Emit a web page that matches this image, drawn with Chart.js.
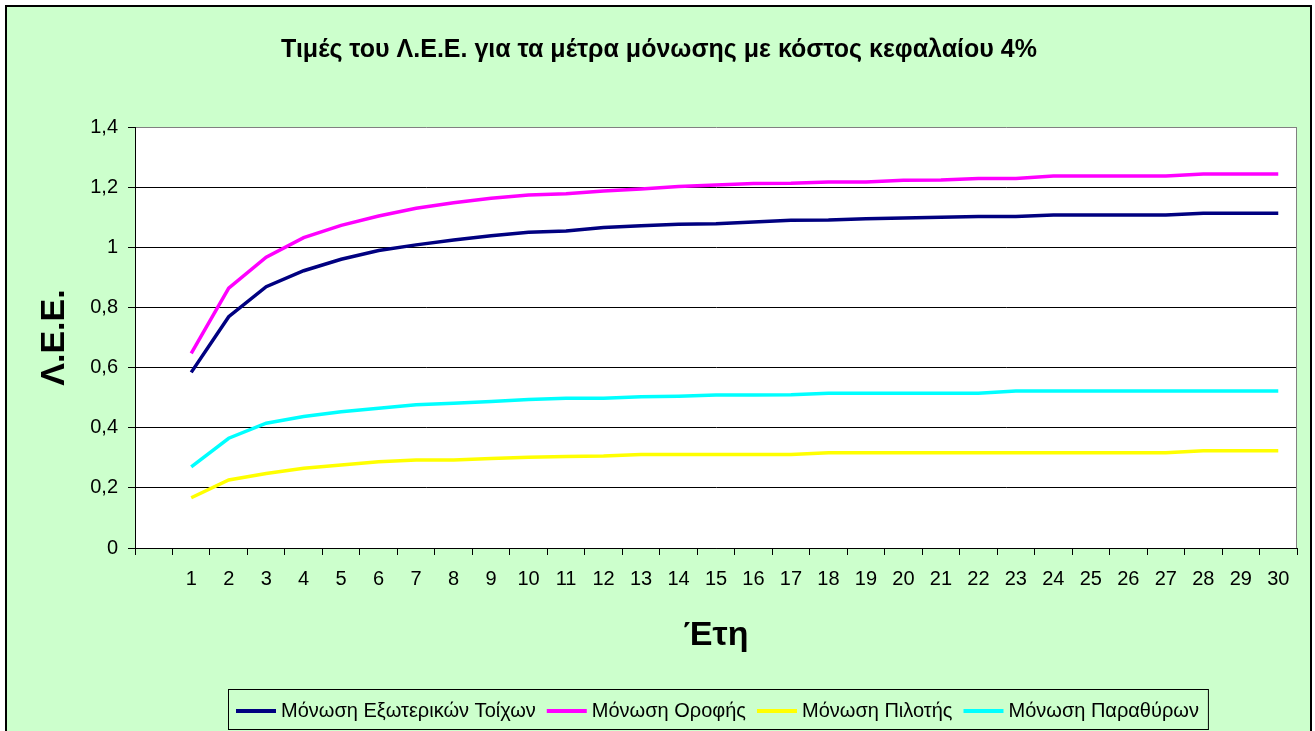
<!DOCTYPE html>
<html>
<head>
<meta charset="utf-8">
<title>Τιμές του Λ.Ε.Ε.</title>
<script src="https://cdn.jsdelivr.net/npm/chart.js@4.4.0/dist/chart.umd.min.js"></script>
<style>
    html, body { margin: 0; padding: 0; background: #ffffff; }
</style>
</head>
<body>
<canvas id="leeChart" width="1315" height="731"></canvas>
<script>
// first category is left empty, the years start at the second slot
const years = ['', '1', '2', '3', '4', '5', '6', '7', '8', '9', '10',
    '11', '12', '13', '14', '15', '16', '17', '18', '19', '20',
    '21', '22', '23', '24', '25', '26', '27', '28', '29', '30'];

const exoterikoiToixoi = [null, 0.584, 0.769, 0.869, 0.922, 0.960, 0.989, 1.008, 1.024, 1.038, 1.050,
    1.054, 1.066, 1.072, 1.077, 1.078, 1.084, 1.090, 1.091, 1.095, 1.097,
    1.100, 1.102, 1.102, 1.107, 1.107, 1.107, 1.107, 1.113, 1.113, 1.113];

const orofi = [null, 0.647, 0.864, 0.967, 1.032, 1.073, 1.104, 1.130, 1.148, 1.163, 1.174,
    1.178, 1.187, 1.194, 1.202, 1.207, 1.212, 1.213, 1.217, 1.217, 1.223,
    1.224, 1.229, 1.229, 1.237, 1.237, 1.237, 1.237, 1.244, 1.244, 1.244];

const pilotis = [null, 0.167, 0.226, 0.248, 0.265, 0.276, 0.287, 0.293, 0.293, 0.298, 0.302,
    0.304, 0.306, 0.311, 0.311, 0.311, 0.311, 0.311, 0.317, 0.317, 0.317,
    0.317, 0.317, 0.317, 0.317, 0.317, 0.317, 0.317, 0.323, 0.323, 0.323];

const parathyra = [null, 0.270, 0.365, 0.415, 0.437, 0.453, 0.465, 0.476, 0.481, 0.487, 0.494,
    0.498, 0.498, 0.503, 0.505, 0.509, 0.509, 0.510, 0.515, 0.515, 0.515,
    0.515, 0.515, 0.522, 0.522, 0.522, 0.522, 0.522, 0.522, 0.522, 0.522];

const seriesNames = ['Μόνωση Εξωτερικών Τοίχων', 'Μόνωση Οροφής', 'Μόνωση Πιλοτής', 'Μόνωση Παραθύρων'];
const seriesColors = ['#000080', '#FF00FF', '#FFFF00', '#00FFFF'];
const chartTitle = 'Τιμές του Λ.Ε.Ε. για τα μέτρα μόνωσης με κόστος κεφαλαίου 4%';

const FONT = "'Liberation Sans', Arial, sans-serif";

// green frame, white plot area, title, gray right edge and boxed legend
const framePlugin = {
    id: 'frame',
    beforeDraw(chart) {
        const ctx = chart.ctx;
        const a = chart.chartArea;
        ctx.save();
        ctx.fillStyle = '#ffffff';
        ctx.fillRect(0, 0, chart.width, chart.height);
        ctx.fillStyle = '#CCFFCC';
        ctx.fillRect(6, 6, 1305, 740);
        ctx.strokeStyle = '#000000';
        ctx.lineWidth = 2;
        ctx.strokeRect(6, 6, 1305, 740);
        ctx.fillStyle = '#ffffff';
        ctx.fillRect(a.left, a.top, a.right - a.left, a.bottom - a.top);
        ctx.restore();
    },
    afterDraw(chart) {
        const ctx = chart.ctx;
        const a = chart.chartArea;
        ctx.save();
        ctx.strokeStyle = '#808080';
        ctx.lineWidth = 1;
        ctx.beginPath();
        ctx.moveTo(a.right - 0.5, a.top);
        ctx.lineTo(a.right - 0.5, a.bottom);
        ctx.stroke();

        ctx.fillStyle = '#000000';
        ctx.font = 'bold 25px ' + FONT;
        ctx.textAlign = 'center';
        ctx.textBaseline = 'middle';
        ctx.fillText(chartTitle, 659, 50);

        // legend
        ctx.font = '20px ' + FONT;
        ctx.textAlign = 'left';
        let x = 236;
        const y = 711;
        chart.data.datasets.forEach(ds => {
            ctx.strokeStyle = ds.borderColor;
            ctx.lineWidth = 4;
            ctx.beginPath();
            ctx.moveTo(x, y);
            ctx.lineTo(x + 40, y);
            ctx.stroke();
            x += 45;
            ctx.fillStyle = '#000000';
            ctx.fillText(ds.label, x, y);
            x += ctx.measureText(ds.label).width + 11;
        });
        ctx.strokeStyle = '#000000';
        ctx.lineWidth = 1;
        ctx.strokeRect(228.5, 689.5, x - 230, 40);
        ctx.restore();
    }
};

const leeCtx = document.getElementById('leeChart').getContext('2d');
const leeChart = new Chart(leeCtx, {
    type: 'line',
    data: {
        labels: years,
        datasets: [
            { label: seriesNames[0], data: exoterikoiToixoi, borderColor: seriesColors[0] },
            { label: seriesNames[1], data: orofi, borderColor: seriesColors[1] },
            { label: seriesNames[2], data: pilotis, borderColor: seriesColors[2] },
            { label: seriesNames[3], data: parathyra, borderColor: seriesColors[3] }
        ]
    },
    options: {
        responsive: false,
        animation: false,
        devicePixelRatio: 1,
        layout: { padding: { left: 0, right: 18, top: 127, bottom: 0 } },
        elements: {
            line: { borderWidth: 3.5, tension: 0, fill: false },
            point: { radius: 0, hoverRadius: 0 }
        },
        plugins: {
            legend: { display: false },
            tooltip: { enabled: false },
            title: { display: false }
        },
        scales: {
            x: {
                offset: true,
                afterFit(scale) { scale.height = 183; },
                grid: {
                    offset: true,
                    drawOnChartArea: false,
                    drawTicks: true,
                    tickLength: 7,
                    tickColor: '#000000'
                },
                border: { color: '#000000', width: 1 },
                ticks: {
                    color: '#000000',
                    font: { family: FONT, size: 20 },
                    padding: 12,
                    maxRotation: 0,
                    autoSkip: false
                },
                title: {
                    display: true,
                    text: 'Έτη',
                    color: '#000000',
                    font: { family: FONT, size: 34, weight: 'bold' },
                    padding: { top: 0, bottom: 75 }
                }
            },
            y: {
                min: 0,
                max: 1.4,
                afterFit(scale) { scale.width = 135; },
                grid: {
                    color: c => (c.tick && Math.abs(c.tick.value - 1.4) < 1e-6) ? '#808080' : '#000000',
                    tickColor: '#000000',
                    tickLength: 7,
                    lineWidth: 1
                },
                border: { color: '#000000', width: 1 },
                ticks: {
                    stepSize: 0.2,
                    color: '#000000',
                    font: { family: FONT, size: 20 },
                    padding: 10,
                    callback: v => String(Math.round(v * 10) / 10).replace('.', ',')
                },
                title: {
                    display: true,
                    text: 'Λ.Ε.Ε.',
                    color: '#000000',
                    font: { family: FONT, size: 34, weight: 'bold' },
                    padding: { top: 34, bottom: 0 }
                }
            }
        }
    },
    plugins: [framePlugin]
});
</script>
</body>
</html>
